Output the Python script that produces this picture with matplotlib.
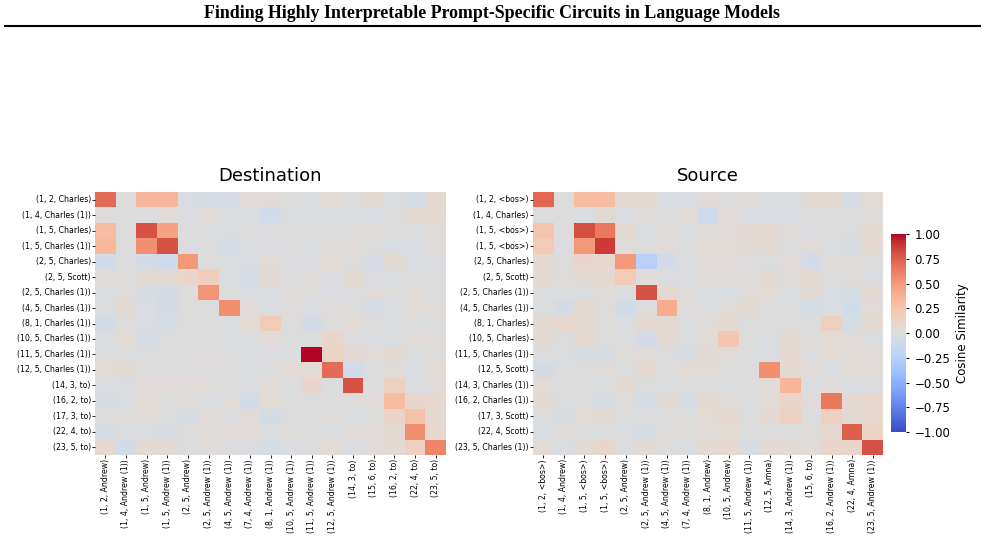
import numpy as np
import matplotlib
matplotlib.use("Agg")
import matplotlib.pyplot as plt
import seaborn as sns

dest_rows = ["(1, 2, Charles)", "(1, 4, Charles (1))", "(1, 5, Charles)", "(1, 5, Charles (1))",
             "(2, 5, Charles)", "(2, 5, Scott)", "(2, 5, Charles (1))", "(4, 5, Charles (1))",
             "(8, 1, Charles (1))", "(10, 5, Charles (1))", "(11, 5, Charles (1))", "(12, 5, Charles (1))",
             "(14, 3, to)", "(16, 2, to)", "(17, 3, to)", "(22, 4, to)", "(23, 5, to)"]
dest_cols = ["(1, 2, Andrew)", "(1, 4, Andrew (1))", "(1, 5, Andrew)", "(1, 5, Andrew (1))",
             "(2, 5, Andrew)", "(2, 5, Andrew (1))", "(4, 5, Andrew (1))", "(7, 4, Andrew (1))",
             "(8, 1, Andrew (1))", "(10, 5, Andrew (1))", "(11, 5, Andrew (1))", "(12, 5, Andrew (1))",
             "(14, 3, to)", "(15, 6, to)", "(16, 2, to)", "(22, 4, to)", "(23, 5, to)"]
src_rows = ["(1, 2, <bos>)", "(1, 4, Charles)", "(1, 5, <bos>)", "(1, 5, <bos>)",
            "(2, 5, Charles)", "(2, 5, Scott)", "(2, 5, Charles (1))", "(4, 5, Charles (1))",
            "(8, 1, Charles)", "(10, 5, Charles)", "(11, 5, Charles (1))", "(12, 5, Scott)",
            "(14, 3, Charles (1))", "(16, 2, Charles (1))", "(17, 3, Scott)", "(22, 4, Scott)",
            "(23, 5, Charles (1))"]
src_cols = ["(1, 2, <bos>)", "(1, 4, Andrew)", "(1, 5, <bos>)", "(1, 5, <bos>)",
            "(2, 5, Andrew)", "(2, 5, Andrew (1))", "(4, 5, Andrew (1))", "(7, 4, Andrew (1))",
            "(8, 1, Andrew)", "(10, 5, Andrew)", "(11, 5, Andrew (1))", "(12, 5, Amna)",
            "(14, 3, Andrew (1))", "(15, 6, to)", "(16, 2, Andrew (1))", "(22, 4, Amna)",
            "(23, 5, Andrew (1))"]

dest_values = [
    [0.70, 0.00, 0.35, 0.35, -0.03, -0.05, -0.05, 0.04, 0.03, 0.00, -0.01, 0.04, 0.00, 0.05, -0.01, -0.05, 0.06],
    [0.02, 0.00, 0.00, 0.04, -0.02, 0.03, -0.01, -0.02, -0.08, -0.01, -0.02, -0.01, -0.01, -0.03, 0.00, 0.05, 0.07],
    [0.30, 0.00, 0.80, 0.45, 0.00, -0.01, -0.02, 0.00, -0.01, 0.00, 0.00, 0.00, 0.01, 0.02, 0.00, 0.00, 0.02],
    [0.33, 0.00, 0.55, 0.80, -0.02, 0.00, -0.05, -0.01, -0.02, 0.00, -0.02, 0.02, 0.03, 0.00, -0.03, -0.03, 0.03],
    [-0.08, 0.00, -0.07, -0.10, 0.50, 0.00, -0.01, -0.03, 0.03, -0.01, -0.02, 0.04, 0.00, -0.05, 0.05, -0.03, -0.02],
    [0.03, 0.01, 0.05, 0.05, 0.10, 0.17, -0.02, -0.05, 0.05, 0.00, 0.01, -0.02, 0.05, -0.02, -0.01, -0.01, 0.01],
    [-0.03, 0.01, -0.04, -0.06, 0.00, 0.52, 0.00, -0.02, -0.03, 0.03, 0.00, -0.02, -0.01, 0.03, 0.00, 0.04, -0.01],
    [-0.01, 0.05, -0.03, -0.06, 0.00, 0.00, 0.55, 0.03, -0.02, 0.02, -0.03, 0.02, -0.01, -0.04, -0.03, 0.04, 0.02],
    [-0.06, 0.00, -0.03, -0.05, 0.00, 0.00, -0.01, 0.04, 0.20, 0.00, -0.06, 0.00, 0.04, 0.00, -0.01, 0.00, 0.00],
    [-0.01, 0.04, -0.05, -0.01, 0.00, 0.00, -0.01, -0.01, 0.03, 0.00, 0.00, 0.10, 0.00, -0.02, -0.01, 0.03, 0.03],
    [-0.01, -0.01, -0.01, 0.00, 0.00, 0.03, -0.01, -0.01, -0.02, -0.02, 1.00, 0.12, 0.05, 0.03, 0.05, -0.01, 0.01],
    [0.04, 0.05, 0.00, 0.00, 0.00, 0.00, 0.00, -0.01, 0.00, 0.04, 0.04, 0.70, -0.08, -0.01, 0.02, -0.03, 0.04],
    [-0.02, -0.02, 0.03, 0.03, 0.03, 0.02, 0.00, -0.01, 0.03, -0.01, 0.10, 0.00, 0.80, 0.00, 0.15, -0.02, 0.03],
    [-0.04, -0.03, 0.04, 0.00, 0.02, -0.02, 0.02, -0.06, 0.04, 0.00, -0.01, 0.00, 0.01, 0.03, 0.30, 0.10, 0.08],
    [0.00, 0.01, 0.03, -0.01, -0.05, 0.03, -0.01, 0.03, -0.07, 0.00, 0.00, 0.02, -0.02, 0.00, 0.12, 0.27, 0.05],
    [-0.05, -0.01, -0.02, -0.04, 0.01, 0.02, 0.03, 0.03, -0.01, 0.01, 0.00, -0.01, 0.02, 0.03, 0.05, 0.55, 0.08],
    [0.07, -0.08, 0.05, 0.05, -0.02, 0.03, -0.01, -0.02, -0.05, -0.02, -0.01, 0.04, -0.02, 0.03, 0.05, 0.15, 0.60],
]

src_values = [
    [0.72, 0.00, 0.30, 0.30, 0.05, 0.05, -0.03, -0.03, 0.03, 0.00, 0.02, -0.03, -0.01, 0.05, 0.05, -0.04, 0.04],
    [0.00, 0.00, -0.01, 0.05, -0.02, 0.02, -0.01, 0.03, -0.10, 0.03, -0.03, -0.03, -0.03, 0.01, 0.00, 0.00, 0.01],
    [0.25, 0.00, 0.82, 0.65, 0.05, -0.01, 0.03, -0.01, 0.02, 0.03, 0.05, 0.06, 0.02, -0.02, 0.00, -0.01, 0.05],
    [0.20, -0.02, 0.50, 0.88, 0.02, 0.00, 0.03, 0.00, 0.04, 0.04, 0.05, 0.05, 0.00, 0.03, -0.02, -0.04, 0.06],
    [0.07, 0.00, 0.10, 0.08, 0.50, -0.25, -0.07, -0.02, 0.03, 0.03, 0.00, -0.01, 0.03, -0.07, 0.02, 0.03, 0.00],
    [0.05, 0.02, 0.05, 0.07, 0.20, 0.03, -0.01, -0.02, 0.03, 0.02, 0.02, 0.05, 0.02, 0.06, 0.00, 0.02, -0.02],
    [-0.01, -0.01, -0.01, 0.02, -0.02, 0.80, 0.06, 0.02, -0.03, -0.03, 0.03, 0.04, -0.01, 0.05, -0.03, -0.04, 0.05],
    [-0.01, -0.06, 0.05, 0.02, -0.08, 0.00, 0.40, 0.03, -0.01, 0.02, 0.05, -0.01, -0.01, -0.05, -0.03, -0.08, 0.03],
    [0.05, 0.08, 0.05, 0.01, -0.02, 0.05, 0.06, -0.01, 0.03, 0.05, 0.00, 0.00, 0.00, 0.00, 0.15, -0.05, 0.05],
    [0.05, -0.01, 0.06, 0.00, -0.01, -0.07, 0.05, -0.01, 0.04, 0.23, 0.00, -0.03, 0.05, 0.01, 0.04, 0.03, -0.01],
    [0.00, -0.01, -0.04, -0.04, 0.02, 0.03, -0.02, -0.04, 0.05, 0.03, 0.00, -0.02, 0.07, -0.01, 0.04, 0.03, 0.03],
    [-0.06, -0.01, 0.01, 0.02, -0.01, 0.06, 0.00, 0.04, 0.04, 0.00, 0.00, 0.55, 0.05, 0.03, -0.03, 0.04, 0.03],
    [0.04, 0.00, 0.00, -0.01, 0.05, -0.01, -0.01, 0.00, -0.01, -0.01, 0.00, 0.04, 0.35, -0.01, 0.03, -0.03, -0.01],
    [0.05, -0.01, -0.01, -0.04, 0.02, -0.05, 0.05, -0.05, 0.05, 0.02, -0.01, 0.04, 0.10, 0.03, 0.65, 0.06, 0.08],
    [-0.01, -0.04, 0.04, 0.05, 0.00, 0.00, 0.00, 0.00, 0.04, 0.07, 0.00, 0.06, 0.15, -0.01, 0.15, 0.05, 0.07],
    [-0.03, 0.03, -0.01, -0.01, -0.02, -0.05, 0.02, 0.02, 0.03, 0.04, 0.00, 0.00, 0.00, 0.02, 0.07, 0.75, 0.12],
    [0.04, -0.03, 0.05, 0.10, -0.01, 0.05, 0.00, -0.01, 0.05, 0.07, -0.04, 0.06, 0.05, 0.02, 0.10, 0.10, 0.80],
]

W, H = 985, 560
fig = plt.figure(figsize=(W / 100, H / 100), dpi=100)

def fx(px):
    return px / W

def fy(py):
    return 1 - py / H

# paper header
fig.text(0.5, fy(14), "Finding Highly Interpretable Prompt-Specific Circuits in Language Models",
         ha="center", va="center", fontsize=12.9, fontweight="bold", family="Liberation Serif")
fig.add_artist(plt.Line2D([fx(5), fx(980)], [fy(25.5), fy(25.5)], color="black", lw=1.5))

ax1 = fig.add_axes([fx(95), fy(455), fx(446 - 95), (455 - 192) / H])
ax2 = fig.add_axes([fx(533), fy(455), fx(883 - 533), (455 - 192) / H])
cax = fig.add_axes([fx(891), fy(432), fx(15), (432 - 234) / H])

sns.heatmap(np.array(dest_values), ax=ax1, cmap="coolwarm", vmin=-1, vmax=1, cbar=False,
            xticklabels=dest_cols, yticklabels=dest_rows)
sns.heatmap(np.array(src_values), ax=ax2, cmap="coolwarm", vmin=-1, vmax=1, cbar=True,
            cbar_ax=cax, xticklabels=src_cols, yticklabels=src_rows,
            cbar_kws={"label": "Cosine Similarity", "ticks": [-1, -0.75, -0.5, -0.25, 0, 0.25, 0.5, 0.75, 1]})

for ax, title in [(ax1, "Destination"), (ax2, "Source")]:
    ax.set_title(title, fontsize=13, pad=8)
    ax.tick_params(axis="both", labelsize=5.6, length=2, width=0.6, pad=1)
    ax.set_xticklabels(ax.get_xticklabels(), rotation=90)
    ax.set_yticklabels(ax.get_yticklabels(), rotation=0)

cax.tick_params(labelsize=8.5, length=2.5)
cax.set_yticklabels(["\u22121.00", "\u22120.75", "\u22120.50", "\u22120.25", "0.00", "0.25", "0.50", "0.75", "1.00"])
cax.yaxis.label.set_size(8.5)

fig.savefig("out.png", dpi=100)
